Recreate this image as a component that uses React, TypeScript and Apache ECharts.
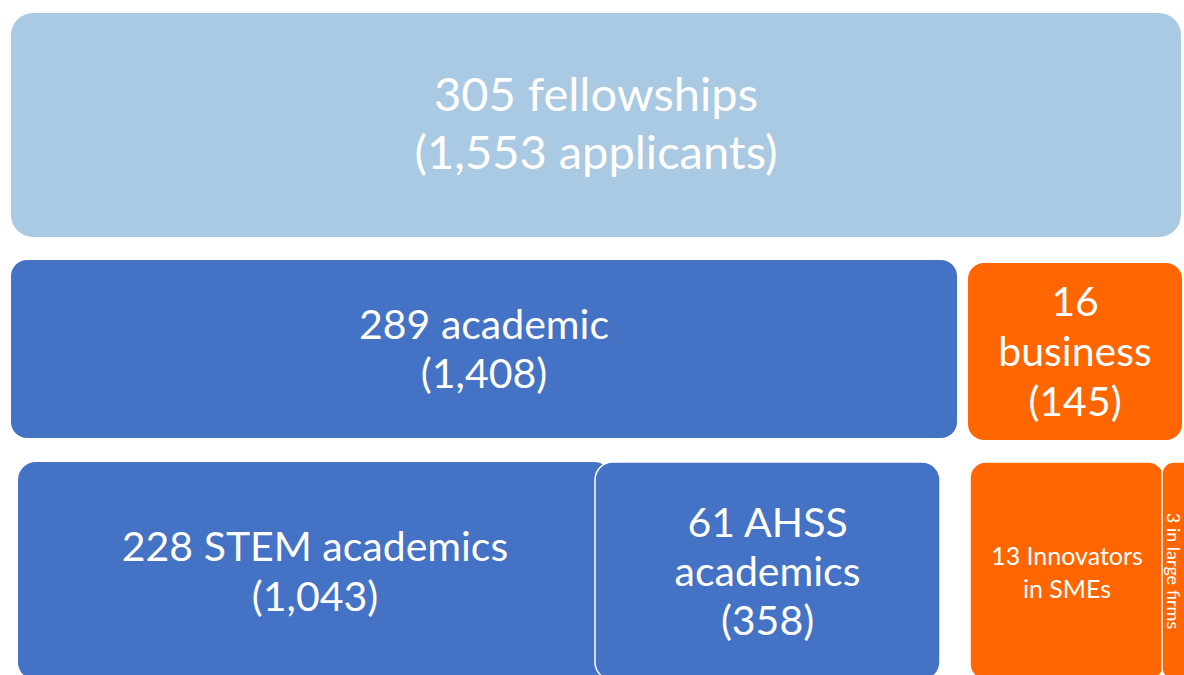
import React, { useEffect, useRef } from "react";
import * as echarts from "echarts";

// ---- data ----
const categories = [
  "fellowships",
  "academic",
  "business",
  "STEM academics",
  "AHSS academics",
  "Innovators in SMEs",
  "in large firms",
];
const fellowships = [305, 289, 16, 228, 61, 13, 3];
const applicants: (number | null)[] = [1553, 1408, 145, 1043, 358, null, null];

// ---- layout (pixel-space on hidden axes) ----
const boxLeft = [11, 11, 968, 18, 595, 970, 1162];
const boxRight = [1181, 957, 1182, 612, 940, 1164, 1198];
const boxTop = [13, 260, 263, 462, 462, 462, 462];
const boxBottom = [237, 438, 440, 680, 680, 680, 680];
const radius = [22, 16, 16, 18, 18, 16, 12];
const fills = ["#AAC9E3", "#4472C4", "#FF6600", "#4472C4", "#4472C4", "#FF6600", "#FF6600"];
const strokes = ["none", "none", "none", "none", "#FFFFFF", "#FFFFFF", "#FFFFFF"];
const fontSizes = [47, 41, 41, 41, 41, 25, 18];
const lineHeights = [58, 49, 50, 50, 49, 33, 18];
const rotations = [0, 0, 0, 0, 0, 0, -Math.PI / 2];
const textShiftX = [0, 0, 0, 0, 0, 0, -6];
const textShiftY = [-3, -1, -1, -1, -1, 0, 0];

const fmt = (n: number) => n.toLocaleString("en-US");

function labelFor(i: number): string {
  const f = fellowships[i];
  const a = applicants[i];
  switch (i) {
    case 0:
      return `${f} ${categories[i]}\n(${fmt(a as number)} applicants)`;
    case 1:
      return `${f} ${categories[i]}\n(${fmt(a as number)})`;
    case 2:
      return `${f}\n${categories[i]}\n(${fmt(a as number)})`;
    case 3:
      return `${f} ${categories[i]}\n(${fmt(a as number)})`;
    case 4:
      return `${f} AHSS\nacademics\n(${fmt(a as number)})`;
    case 5:
      return `${f} Innovators\nin SMEs`;
    default:
      return `${f} ${categories[i]}`;
  }
}

export default function App() {
  const ref = useRef<HTMLDivElement>(null);
  useEffect(() => {
    if (!ref.current) return;
    const chart = echarts.init(ref.current, undefined, { renderer: "svg" });
    const data = categories.map((_, i) => [boxLeft[i], boxRight[i], boxTop[i], boxBottom[i], i]);
    chart.setOption({
      animation: false,
      backgroundColor: "#FFFFFF",
      grid: { left: 0, right: 0, top: 0, bottom: 0, containLabel: false },
      xAxis: { type: "value", min: 0, max: 1184, show: false },
      yAxis: { type: "value", min: 0, max: 675, inverse: true, show: false },
      series: [
        {
          type: "custom",
          clip: false,
          data,
          encode: { x: [0, 1], y: [2, 3] },
          renderItem: (params: any, api: any) => {
            const i = api.value(4);
            const p0 = api.coord([api.value(0), api.value(2)]);
            const p1 = api.coord([api.value(1), api.value(3)]);
            const x = p0[0];
            const y = p0[1];
            const w = p1[0] - p0[0];
            const h = p1[1] - p0[1];
            return {
              type: "group",
              children: [
                {
                  type: "rect",
                  shape: { x, y, width: w, height: h, r: radius[i] },
                  style: {
                    fill: fills[i],
                    stroke: strokes[i] === "none" ? null : strokes[i],
                    lineWidth: strokes[i] === "none" ? 0 : 1.5,
                  },
                },
                {
                  type: "text",
                  x: x + w / 2 + textShiftX[i],
                  y: y + h / 2 + textShiftY[i],
                  rotation: rotations[i],
                  style: {
                    text: labelFor(i),
                    fill: "#FFFFFF",
                    fontSize: fontSizes[i],
                    fontFamily: "Lato, 'Noto Sans', sans-serif",
                    lineHeight: lineHeights[i],
                    align: "center",
                    verticalAlign: "middle",
                  },
                },
              ],
            };
          },
        },
      ],
    });
    return () => chart.dispose();
  }, []);
  return (
    <div
      ref={ref}
      style={{ position: "fixed", left: 0, top: 0, width: 1184, height: 675 }}
    />
  );
}
